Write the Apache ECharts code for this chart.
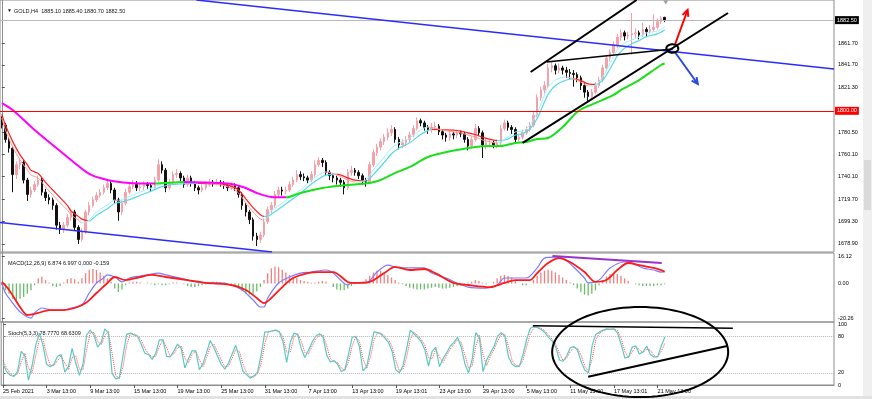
<!DOCTYPE html>
<html><head><meta charset="utf-8">
<script src="https://cdn.jsdelivr.net/npm/echarts@6/dist/echarts.min.js"></script>
<style>html,body{margin:0;padding:0;background:#fff}#c{width:872px;height:399px}</style>
</head><body><div id="c"></div>
<script>
// ---------------- DATA ----------------
const timeLabels = ["25 Feb 2021","3 Mar 13:00","9 Mar 13:00","15 Mar 13:00","19 Mar 13:00","25 Mar 13:00","31 Mar 13:00","7 Apr 13:00","13 Apr 13:00","19 Apr 13:01","23 Apr 13:00","29 Apr 13:00","5 May 13:00","11 May 13:00","17 May 13:01","21 May 13:00"];

const opens = [
1792,1787,1774,1766,1742,1751,1753,1737,1724,1728,
1733,1737,1726,1721,1719,1714,1696,1692,1696,1703,
1708,1694,1683,1690,1708,1714,1719,1723,1726,1730,
1734,1728,1719,1708,1716,1726,1731,1733,1730,1731,
1733,1732,1730,1737,1751,1746,1730,1735,1742,1743,
1739,1733,1739,1734,1730,1728,1730,1733,1735,1734,
1735,1734,1732,1730,1732,1730,1724,1714,1708,1701,
1686,1683,1687,1699,1710,1714,1724,1728,1727,1728,
1733,1737,1742,1740,1739,1737,1742,1751,1755,1753,
1744,1741,1739,1737,1735,1730,1744,1746,1744,1741,
1737,1735,1751,1762,1767,1772,1776,1780,1783,1774,
1769,1771,1774,1778,1784,1791,1789,1785,1783,1785,
1786,1781,1778,1776,1779,1778,1780,1779,1774,1768,
1774,1784,1780,1769,1771,1771,1769,1771,1784,1789,
1785,1783,1774,1776,1780,1783,1787,1796,1812,1819,
1823,1839,1841,1837,1839,1837,1835,1834,1833,1830,
1823,1817,1813,1817,1823,1828,1839,1848,1853,1860,
1867,1871,1868,1869,1870,1871,1869,1874,1872,1874,
1876,1881,1885.1];
const closes = [
1787,1774,1766,1742,1751,1753,1737,1724,1728,1733,
1737,1726,1721,1719,1714,1696,1692,1696,1703,1708,
1694,1683,1690,1708,1714,1719,1723,1726,1730,1734,
1728,1719,1708,1716,1726,1731,1733,1730,1731,1733,
1732,1730,1737,1751,1746,1730,1735,1742,1743,1739,
1733,1739,1734,1730,1728,1730,1733,1735,1734,1735,
1734,1732,1730,1732,1730,1724,1714,1708,1701,1686,
1683,1687,1699,1710,1714,1724,1728,1727,1728,1733,
1737,1742,1740,1739,1737,1742,1751,1755,1753,1744,
1741,1739,1737,1735,1730,1744,1746,1744,1741,1737,
1735,1751,1762,1767,1772,1776,1780,1783,1774,1769,
1771,1774,1778,1784,1791,1789,1785,1783,1785,1786,
1781,1778,1776,1779,1778,1780,1779,1774,1768,1774,
1784,1780,1769,1771,1771,1769,1771,1784,1789,1785,
1783,1774,1776,1780,1783,1787,1796,1812,1819,1823,
1839,1841,1837,1839,1837,1835,1834,1833,1830,1823,
1817,1813,1817,1823,1828,1839,1848,1853,1860,1867,
1871,1868,1869,1870,1871,1869,1874,1872,1874,1876,
1881,1884,1882.5];
const highs = [
1795,1789,1776,1768,1754,1757,1755,1739,1731,1736,
1741,1739,1729,1724,1721,1716,1699,1699,1706,1711,
1710,1696,1693,1710,1717,1722,1726,1729,1733,1738,
1736,1730,1721,1719,1729,1734,1737,1736,1734,1736,
1735,1734,1740,1756,1754,1748,1738,1745,1747,1745,
1741,1742,1741,1736,1732,1733,1736,1738,1737,1738,
1737,1736,1734,1735,1734,1732,1726,1716,1710,1703,
1689,1690,1702,1713,1717,1727,1731,1731,1731,1736,
1740,1746,1745,1743,1741,1745,1755,1758,1757,1755,
1746,1743,1741,1739,1737,1747,1750,1748,1746,1743,
1739,1754,1765,1770,1775,1779,1784,1787,1785,1776,
1774,1777,1781,1787,1794,1793,1791,1787,1789,1790,
1788,1783,1780,1782,1781,1783,1782,1781,1776,1777,
1788,1786,1782,1775,1774,1773,1774,1787,1792,1791,
1787,1785,1779,1783,1786,1790,1799,1815,1822,1827,
1843,1844,1843,1843,1841,1840,1838,1837,1835,1832,
1825,1819,1820,1826,1831,1842,1851,1856,1863,1870,
1874,1873,1872,1889,1875,1873,1880,1876,1878,1888,
1884,1886,1885.4];
const lows = [
1784,1771,1762,1726,1738,1747,1734,1718,1721,1726,
1731,1723,1718,1715,1710,1692,1688,1689,1694,1700,
1691,1679,1681,1688,1705,1712,1717,1721,1724,1728,
1725,1716,1700,1705,1714,1724,1729,1727,1727,1728,
1729,1727,1728,1735,1743,1726,1728,1733,1739,1736,
1730,1731,1731,1727,1724,1726,1728,1731,1731,1732,
1731,1729,1727,1728,1727,1721,1710,1704,1697,1682,
1677,1680,1685,1697,1707,1712,1721,1723,1724,1726,
1731,1735,1737,1736,1734,1735,1740,1749,1749,1741,
1737,1735,1733,1731,1724,1728,1741,1741,1738,1733,
1731,1733,1749,1759,1764,1769,1773,1777,1771,1765,
1766,1768,1771,1776,1782,1786,1782,1779,1780,1782,
1778,1774,1772,1773,1774,1775,1776,1771,1764,1766,
1772,1777,1757,1765,1767,1766,1766,1769,1782,1782,
1779,1771,1771,1774,1778,1781,1785,1794,1809,1816,
1821,1835,1833,1834,1833,1830,1829,1822,1826,1819,
1812,1809,1811,1815,1821,1826,1836,1845,1851,1857,
1864,1864,1865,1851,1866,1865,1867,1868,1870,1872,
1874,1879,1880.7];

// moving averages: [bar index, value]
const maLong = [[0,1807.1],[3,1800.8],[9,1782.6],[15,1766.2],[20,1752.6],[24,1742.6],[29,1737.1],[35,1734.4],[42,1733.9],[50,1735.3],[56,1734.8],[63,1733.5],[67,1729.8],[70,1725.3],[74,1721.6],[78,1721.3],[82,1725.3],[88,1729.8],[92,1731.7],[95,1732.6],[101,1734.4],[104,1737.1],[108,1743.5],[112,1749.0],[117,1758.0],[121,1761.7],[125,1764.4],[130,1767.1],[134,1768.0],[137,1768.0],[141,1770.8],[144,1771.7],[147,1774.4],[150,1775.3],[154,1785.3],[158,1799.0],[161,1804.4],[165,1809.9],[168,1814.4],[170,1819.0],[175,1828.0],[181,1841.7],[182,1843.0]];
const ribbonFast = [[0,1793.5],[1,1782.6],[3,1767.1],[5,1755.3],[7,1746.2],[8,1741.7],[10,1738.9],[12,1730.7],[14,1723.5],[16,1716.2],[18,1709.8],[19,1705.3],[21,1700.7],[22,1698.0],[24,1700.7],[26,1708.0],[29,1714.4],[31,1718.9],[32,1718.0],[34,1720.7],[38,1726.2],[41,1729.8],[44,1733.5],[47,1734.4],[54,1734.8],[60,1732.6],[63,1729.8],[65,1725.3],[67,1716.2],[69,1708.0],[71,1701.6],[72,1700.7],[73,1703.5],[74,1708.9],[77,1716.2],[80,1723.5],[82,1728.0],[85,1737.1],[88,1743.5],[89,1744.4],[92,1741.7],[95,1737.1],[97,1735.3],[100,1737.1],[102,1746.2],[105,1758.0],[107,1766.2],[109,1770.8],[112,1775.3],[115,1782.6],[117,1785.3],[118,1784.9],[121,1782.6],[124,1780.8],[126,1779.8],[128,1778.0],[130,1776.2],[132,1773.5],[136,1770.8],[137,1771.7],[139,1776.2],[141,1780.8],[143,1781.7],[145,1787.1],[147,1798.0],[149,1814.4],[150,1821.7],[152,1828.0],[155,1830.8],[157,1829.0],[159,1826.2],[161,1822.6],[163,1823.5],[165,1830.8],[167,1843.5],[169,1855.3],[171,1861.7],[173,1864.4],[175,1867.2],[177,1870.8],[180,1872.6],[182,1876.2]];
const ribbonSlow = [[0,1797],[1,1787],[3,1772],[5,1760],[7,1751],[8,1746],[10,1743],[12,1735],[14,1728],[16,1721],[18,1714],[19,1709],[21,1704],[22,1701.5],[24,1700],[26,1705],[29,1711],[31,1716],[32,1716.5],[34,1718],[38,1723],[41,1727],[44,1731],[47,1733],[54,1734],[60,1733.5],[63,1731.5],[65,1728],[67,1720],[69,1712],[71,1705.5],[72,1704],[73,1704],[74,1706],[77,1713],[80,1720],[82,1725],[85,1733.5],[88,1740],[89,1741.5],[92,1742.5],[95,1739],[97,1737],[100,1736],[102,1742],[105,1753],[107,1761],[109,1766],[112,1771],[115,1778.5],[117,1782],[118,1783],[121,1782.8],[124,1782.5],[126,1781.5],[128,1780],[130,1778.5],[132,1776],[136,1773],[137,1773],[139,1774.5],[141,1778],[143,1779],[145,1783.5],[147,1793],[149,1808],[150,1815],[152,1823],[155,1828],[157,1829],[159,1827.5],[161,1824.5],[163,1824],[165,1828],[167,1838],[169,1850],[171,1857],[173,1861],[175,1864],[177,1867.5],[180,1870],[182,1873.5]];

// MACD(12,26,9)
const macdMain = [[0,0.3],[1,-5.6],[3,-11.5],[5,-16.7],[7,-19.7],[8,-20.3],[9,-17.3],[11,-14.4],[14,-15.6],[17,-15.6],[19,-14.4],[22,-12.6],[24,-5.6],[26,0.3],[28,3.2],[29,5.0],[31,3.8],[33,0.9],[35,3.2],[38,4.4],[40,5.0],[43,6.1],[45,5.0],[49,3.2],[52,1.4],[56,0.3],[60,0.3],[63,-0.9],[66,-3.8],[69,-9.7],[71,-13.8],[72,-13.8],[73,-8.5],[76,0.3],[79,3.8],[82,6.1],[85,6.7],[89,7.9],[91,6.1],[93,2.0],[95,-0.9],[96,0.3],[100,0.3],[103,6.7],[106,10.8],[109,9.1],[113,9.1],[116,9.1],[118,6.1],[122,3.2],[125,0.3],[128,-2.1],[133,-2.7],[136,-0.9],[138,3.2],[141,3.2],[144,3.2],[147,9.1],[149,14.9],[152,15.5],[154,14.9],[157,9.7],[160,3.2],[161,0.3],[164,2.0],[167,9.1],[171,12.6],[173,12.0],[176,9.1],[179,7.9],[181,6.7],[182,6.874]];
const macdSignal = [[0,0.9],[2,-3.8],[5,-13.8],[7,-18.5],[10,-17.3],[13,-15.6],[17,-15.6],[20,-14.4],[23,-11.5],[26,-5.6],[29,0.3],[31,3.8],[34,2.0],[38,3.8],[41,5.0],[45,3.8],[51,2.0],[56,0.3],[63,-0.9],[67,-3.8],[70,-8.5],[72,-11.5],[74,-8.5],[77,-2.1],[80,3.2],[84,6.1],[87,6.7],[91,6.7],[95,0.9],[97,0.3],[101,0.9],[105,6.1],[108,9.7],[112,7.9],[116,8.5],[119,6.1],[124,0.3],[128,-0.9],[134,-2.1],[138,0.3],[141,2.0],[145,2.0],[147,6.1],[150,12.0],[153,14.9],[156,12.6],[160,6.7],[163,0.9],[166,2.0],[169,7.9],[172,12.0],[175,10.8],[179,9.1],[182,6.997]];
const macdHist = [
-1,-4,-6,-9,-10,-9,-8,-6,-4,-1,
3,4,2,0.5,-1.5,-2,-1.5,0.5,2.5,3,
2.5,1,3,6,8,8.5,8,6.5,4.5,3,
1,-3,-5,-3.5,-1,0.5,1,1,0.5,0,
0.5,-0.5,-1,-0.5,-1,-1,-0.5,0.5,0.5,0,
-0.5,-1.5,-2,-2,-1.5,-1,-0.5,0.5,1,1,
0.5,0.5,0,-0.5,-1.5,-3,-4.5,-6,-6.5,-6,
-4.5,-2,2,6,9,10,9.5,8,6.5,5,
4,3,2,1.5,1,0.5,0.5,1,1.5,1,
0,-2,-3.5,-4,-4,-3,-1.5,-0.5,0,1,
2.5,4.5,6.5,7.5,7.5,6.5,5,3.5,2,0.5,
-0.5,-1.5,-2.5,-3,-3.5,-3.5,-3.5,-3,-2.5,-2,
-2.5,-3,-3,-2.5,-2,-1.5,-1,-0.5,0.5,1,
2,1.5,0.5,-0.5,0,1,3,4.5,5,4.5,
3.5,2,0,-1,-1,0,2,4.5,6.5,7.5,
8,7.5,6.5,5,3.5,2,0.5,-1,-3,-5,
-6.5,-7,-6,-4,-1,2,4,5.5,6,5.5,
4.5,3,1.5,0,-0.5,-1,-1.5,-1.5,-1.5,-1.5,
-1,-1,-0.5];

// Stoch(5,3,3)
const stochMain = [
35,22,16,14,22,55,48,8,32,65,
85,65,34,30,34,47,50,21,30,60,
36,16,34,82,90,82,62,70,92,85,
19,10,12,48,83,85,82,80,67,52,
50,42,52,74,74,47,46,56,67,60,
28,43,56,56,25,35,54,73,61,47,
34,26,36,51,65,45,22,17,11,15,
21,50,87,87,89,90,87,71,37,70,
85,83,60,45,57,70,80,84,79,49,
38,40,34,22,25,50,78,80,63,23,
30,59,87,86,83,77,70,55,25,20,
32,60,90,84,78,71,58,31,55,62,
30,43,53,64,70,78,62,35,20,42,
86,78,22,41,52,63,80,86,80,46,
34,30,31,50,75,93,96,94,91,86,
78,72,62,41,39,48,61,63,57,38,
24,20,65,83,87,90,92,91,92,85,
66,44,46,62,64,51,54,64,50,46,
46,64,78.777];
const stochSignal = [
40,28,19,15,18,38,52,28,20,48,
75,75,50,32,32,40,48,36,25,45,
48,26,25,58,86,86,72,66,81,88,
52,15,11,30,65,84,84,81,74,60,
51,46,47,63,74,61,47,51,61,64,
44,36,50,56,41,30,45,63,67,54,
41,30,31,44,58,55,34,20,14,13,
18,36,68,87,88,90,88,79,54,54,
78,84,72,53,51,64,75,82,82,64,
44,39,37,28,24,38,64,79,72,43,
27,45,73,86,85,80,74,63,40,23,
26,46,75,87,81,75,65,45,43,59,
46,37,48,59,67,74,70,49,28,31,
64,82,50,32,47,58,72,83,83,63,
40,32,31,41,63,84,94,95,93,89,
82,75,67,52,40,44,55,62,60,48,
31,22,43,74,85,89,91,92,92,89,
76,55,45,54,63,58,53,59,57,48,
46,55,68.6309];

// axis ticks / levels
const priceTicks = [1861.70,1841.70,1821.30,1780.50,1760.10,1740.10,1719.70,1699.30,1678.90];
const macdTicks = [16.12, 0, -20.26];
const stochTicks = [100, 80, 20, 0];
const stochLevels = [80, 20];
const bidPrice = 1882.50;
const levelPrice = 1800.00;

// drawn annotations, in [bar index, value] units
const blueTop = [[53.4,1900.8],[228.5,1838.1]];
const blueBottom = [[-0.8,1698.6],[74.2,1671.6]];
const channelTop = [[145.2,1835.3],[174.3,1900.8]];
const channelBottom = [[143.0,1770.8],[199.4,1889.0]];
const neckline = [[149.6,1844.4],[184.2,1856.2]];
const upArrow = [184.8,1859.9,188.3,1891.7];
const downArrow = [184.8,1853.5,191.1,1824.4];
const smallEllipse = [184.1,1856.7,1.65,3.8];
const macdDivergence = [[151.2,16.12],[181.2,12.0]];
const stochTop = [[145.7,97.2],[200.7,93.0]];
const stochBottom = [[160.9,13.6],[199.1,63.9]];
const stochEllipse = [175.2,54.1,24.2,73.8];

// ---------------- CHART ----------------
const SLOTS = 229;
const FONT = 'Liberation Sans, Arial, DejaVu Sans, sans-serif';
const FS = 5.5;
const cats = Array.from({length: SLOTS}, (_, i) => String(i));
const candleData = closes.map((c, i) => [opens[i], c, lows[i], highs[i]]);
const showLabel = (idx) => idx % 12 === 0 && idx / 12 < timeLabels.length;

function slopePieces(pts, up, down) {
  const out = [];
  for (let k = 0; k < pts.length - 1; k++) {
    out.push({
      gte: k === 0 ? -1 : pts[k][0],
      lt: k === pts.length - 2 ? 230 : pts[k + 1][0],
      color: pts[k + 1][1] >= pts[k][1] ? up : down
    });
  }
  return out;
}
function seg(name, data, xi, yi, color, width, z, type) {
  const ls = {width, type: type || 'solid'};
  if (color) ls.color = color;
  return {name, type: 'line', xAxisIndex: xi, yAxisIndex: yi, data, symbol: 'none', silent: true,
    z: z || 5, lineStyle: ls, animation: false};
}
function renderArrow(params, api) {
  const p1 = api.coord([api.value(0), api.value(1)]);
  const p2 = api.coord([api.value(2), api.value(3)]);
  const ang = Math.atan2(p2[1] - p1[1], p2[0] - p1[0]);
  const L = 7, a = 0.45;
  const h1 = [p2[0] - L * Math.cos(ang - a), p2[1] - L * Math.sin(ang - a)];
  const h2 = [p2[0] - L * Math.cos(ang + a), p2[1] - L * Math.sin(ang + a)];
  const color = api.visual('color');
  return {type: 'group', children: [
    {type: 'line', shape: {x1: p1[0], y1: p1[1], x2: p2[0], y2: p2[1]}, style: {stroke: color, lineWidth: 2}},
    {type: 'polyline', shape: {points: [h1, p2, h2]}, style: {stroke: color, lineWidth: 2, fill: null}}
  ]};
}
function renderEllipse(params, api) {
  const cx = api.value(0), cy = api.value(1);
  const c = api.coord([cx, cy]);
  const s = api.size([api.value(2), api.value(3)], [cx, cy]);
  const pts = [];
  for (let k = 0; k < 96; k++) {
    const t = k / 96 * Math.PI * 2;
    pts.push([c[0] + s[0] * Math.cos(t), c[1] + s[1] * Math.sin(t)]);
  }
  return {type: 'polygon', shape: {points: pts}, style: {fill: null, stroke: api.visual('color'), lineWidth: 2}};
}

const grids = [
  {left: 0, right: 38, top: 0, height: 252},
  {left: 0, right: 38, top: 253, height: 69},
  {left: 0, right: 38, top: 322, height: 63}
].map(g => Object.assign(g, {show: true, borderColor: '#8c8c8c', borderWidth: 1, backgroundColor: 'transparent'}));

const hiddenCat = (gi) => ({type: 'category', gridIndex: gi, data: cats, show: false, boundaryGap: true});
const hiddenVal = (gi) => ({type: 'value', gridIndex: gi, min: -0.5, max: SLOTS - 0.5, show: false});

const xAxis = [
  hiddenCat(0), hiddenVal(0),
  hiddenCat(1), hiddenVal(1),
  {type: 'category', gridIndex: 2, data: cats, boundaryGap: true,
   axisLine: {show: true, lineStyle: {color: '#8c8c8c'}},
   axisTick: {show: true, alignWithLabel: true, interval: showLabel, length: 3, lineStyle: {color: '#555'}},
   axisLabel: {show: true, interval: showLabel, align: 'left', margin: 3, fontSize: FS, fontFamily: FONT, color: '#000',
     formatter: (v, idx) => timeLabels[idx / 12] || ''},
   splitLine: {show: false}},
  hiddenVal(2)
];
function yAx(gi, min, max, ticks, fmt) {
  return {type: 'value', gridIndex: gi, position: 'right', min, max, scale: true,
    axisLine: {show: true, lineStyle: {color: '#8c8c8c'}},
    axisTick: {show: true, customValues: ticks, length: 3, lineStyle: {color: '#555'}},
    axisLabel: {show: true, customValues: ticks, formatter: fmt, fontSize: FS, fontFamily: FONT, color: '#000', margin: 4},
    splitLine: {show: false}};
}
const yAxis = [
  yAx(0, 1671.6, 1900.8, priceTicks, v => v.toFixed(2)),
  yAx(1, -22.61, 17.88, macdTicks, v => v.toFixed(2)),
  yAx(2, 0, 103.3, stochTicks, v => String(Math.round(v)))
];

const series = [
  {name: 'GOLD', type: 'candlestick', xAxisIndex: 0, yAxisIndex: 0, data: candleData, barWidth: 2, z: 2,
   itemStyle: {color: '#f4a1aa', color0: '#111', borderColor: '#f4a1aa', borderColor0: '#111', borderWidth: 1},
   markLine: {symbol: ['none', 'none'], silent: true, animation: false,
     label: {show: true, position: 'end', distance: 1, fontSize: FS, fontFamily: FONT, padding: [1, 2, 1, 2]},
     data: [
       {yAxis: bidPrice, lineStyle: {color: '#b8b8b8', width: 1, type: 'solid'},
        label: {formatter: bidPrice.toFixed(2), backgroundColor: '#000', color: '#fff'}},
       {yAxis: levelPrice, lineStyle: {color: '#ff0000', width: 1, type: 'solid'},
        label: {formatter: levelPrice.toFixed(2), backgroundColor: '#ff0000', color: '#fff'}}
     ]}},
  Object.assign(seg('MA long', maLong, 1, 0, null, 2, 4), {smooth: 0.3}),
  Object.assign(seg('Ribbon slow', ribbonSlow, 1, 0, null, 1.2, 3), {smooth: 0.3}),
  Object.assign(seg('Ribbon fast', ribbonFast, 1, 0, null, 1, 3), {smooth: 0.3}),
  seg('Blue top', blueTop, 1, 0, '#2b2bff', 1.5, 6),
  seg('Blue bottom', blueBottom, 1, 0, '#2b2bff', 1.5, 6),
  seg('Channel top', channelTop, 1, 0, '#000', 2, 6),
  seg('Channel bottom', channelBottom, 1, 0, '#000', 2, 6),
  seg('Neckline', neckline, 1, 0, '#000', 1.5, 6),
  {name: 'Arrows', type: 'custom', xAxisIndex: 1, yAxisIndex: 0, clip: false, z: 7, silent: true,
   renderItem: renderArrow,
   data: [{value: upArrow, itemStyle: {color: '#ff0000'}}, {value: downArrow, itemStyle: {color: '#2a4bd7'}}]},
  {name: 'Small ellipse', type: 'custom', xAxisIndex: 1, yAxisIndex: 0, clip: false, z: 7, silent: true,
   renderItem: renderEllipse, itemStyle: {color: '#000'}, data: [smallEllipse]},
  {name: 'Shift', type: 'scatter', xAxisIndex: 1, yAxisIndex: 0, symbol: 'triangle', symbolRotate: 180,
   symbolSize: [5, 4], itemStyle: {color: '#8a8a8a'}, silent: true, data: [[182.3, 1898.6]]},

  {name: 'OsMA', type: 'bar', xAxisIndex: 2, yAxisIndex: 1, data: macdHist, barWidth: 1.3, z: 2, silent: true,
   itemStyle: {color: p => p.value >= 0 ? '#f07f7f' : '#69bd69'}},
  Object.assign(seg('MACD', macdMain, 3, 1, '#7b7bff', 1.2, 4), {smooth: 0.3}),
  Object.assign(seg('Signal', macdSignal, 3, 1, '#ff1a1a', 1.8, 5), {smooth: 0.3}),
  seg('Divergence', macdDivergence, 3, 1, '#9933cc', 2, 6),

  {name: 'Stoch', type: 'line', xAxisIndex: 4, yAxisIndex: 2, data: stochMain, symbol: 'none', silent: true, z: 4,
   lineStyle: {color: '#5cc8c2', width: 1.2},
   markLine: {symbol: ['none', 'none'], silent: true, animation: false, label: {show: false},
     lineStyle: {color: '#b4b4b4', width: 1, type: 'dotted'},
     data: stochLevels.map(v => ({yAxis: v}))}},
  {name: 'Stoch signal', type: 'line', xAxisIndex: 4, yAxisIndex: 2, data: stochSignal, symbol: 'none', silent: true, z: 3,
   lineStyle: {color: '#ff4a4a', width: 1, type: 'dotted'}},
  seg('Stoch top', stochTop, 5, 2, '#000', 1.5, 6),
  seg('Stoch bottom', stochBottom, 5, 2, '#000', 2, 6),
  {name: 'Big ellipse', type: 'custom', xAxisIndex: 5, yAxisIndex: 2, clip: false, z: 7, silent: true,
   renderItem: renderEllipse, itemStyle: {color: '#000'}, data: [stochEllipse]}
];

const visualMap = [
  {type: 'piecewise', show: false, dimension: 0, seriesIndex: 1, pieces: slopePieces(maLong, '#19e019', '#ff00ff')},
  {type: 'piecewise', show: false, dimension: 0, seriesIndex: 2, pieces: slopePieces(ribbonSlow, '#55d8ea', '#ff2020')},
  {type: 'piecewise', show: false, dimension: 0, seriesIndex: 3, pieces: slopePieces(ribbonFast, '#9cf2f8', '#ff9a9a')}
];

const ts = {fontSize: FS, fontFamily: FONT, fontWeight: 'normal', color: '#111'};
const title = [
  {text: '▼', left: 2, top: 3, textStyle: Object.assign({}, ts, {fontSize: 5})},
  {text: 'GOLD,H4  1885.10 1885.40 1880.70 1882.50', left: 9, top: 3, textStyle: ts},
  {text: 'MACD(12,26,9) 6.874 6.997 0.000 -0.159', left: 3, top: 255, textStyle: ts},
  {text: 'Stoch(5,3,3) 78.7770 68.6309', left: 3, top: 325, textStyle: ts}
];

const chart = echarts.init(document.getElementById('c'), null, {renderer: 'canvas', width: 872, height: 399});
chart.setOption({
  animation: false,
  backgroundColor: '#fff',
  title, grid: grids, xAxis, yAxis, series, visualMap,
  graphic: [
    {type: 'rect', left: 863, top: 0, shape: {width: 9, height: 399}, style: {fill: '#efefef'}, silent: true},
    {type: 'rect', left: 864, top: 160, shape: {width: 7, height: 50}, style: {fill: '#dadada'}, silent: true},
    {type: 'rect', left: 0, top: 396, shape: {width: 872, height: 3}, style: {fill: '#e2e2e2'}, silent: true}
  ]
});
</script>
</body></html>
